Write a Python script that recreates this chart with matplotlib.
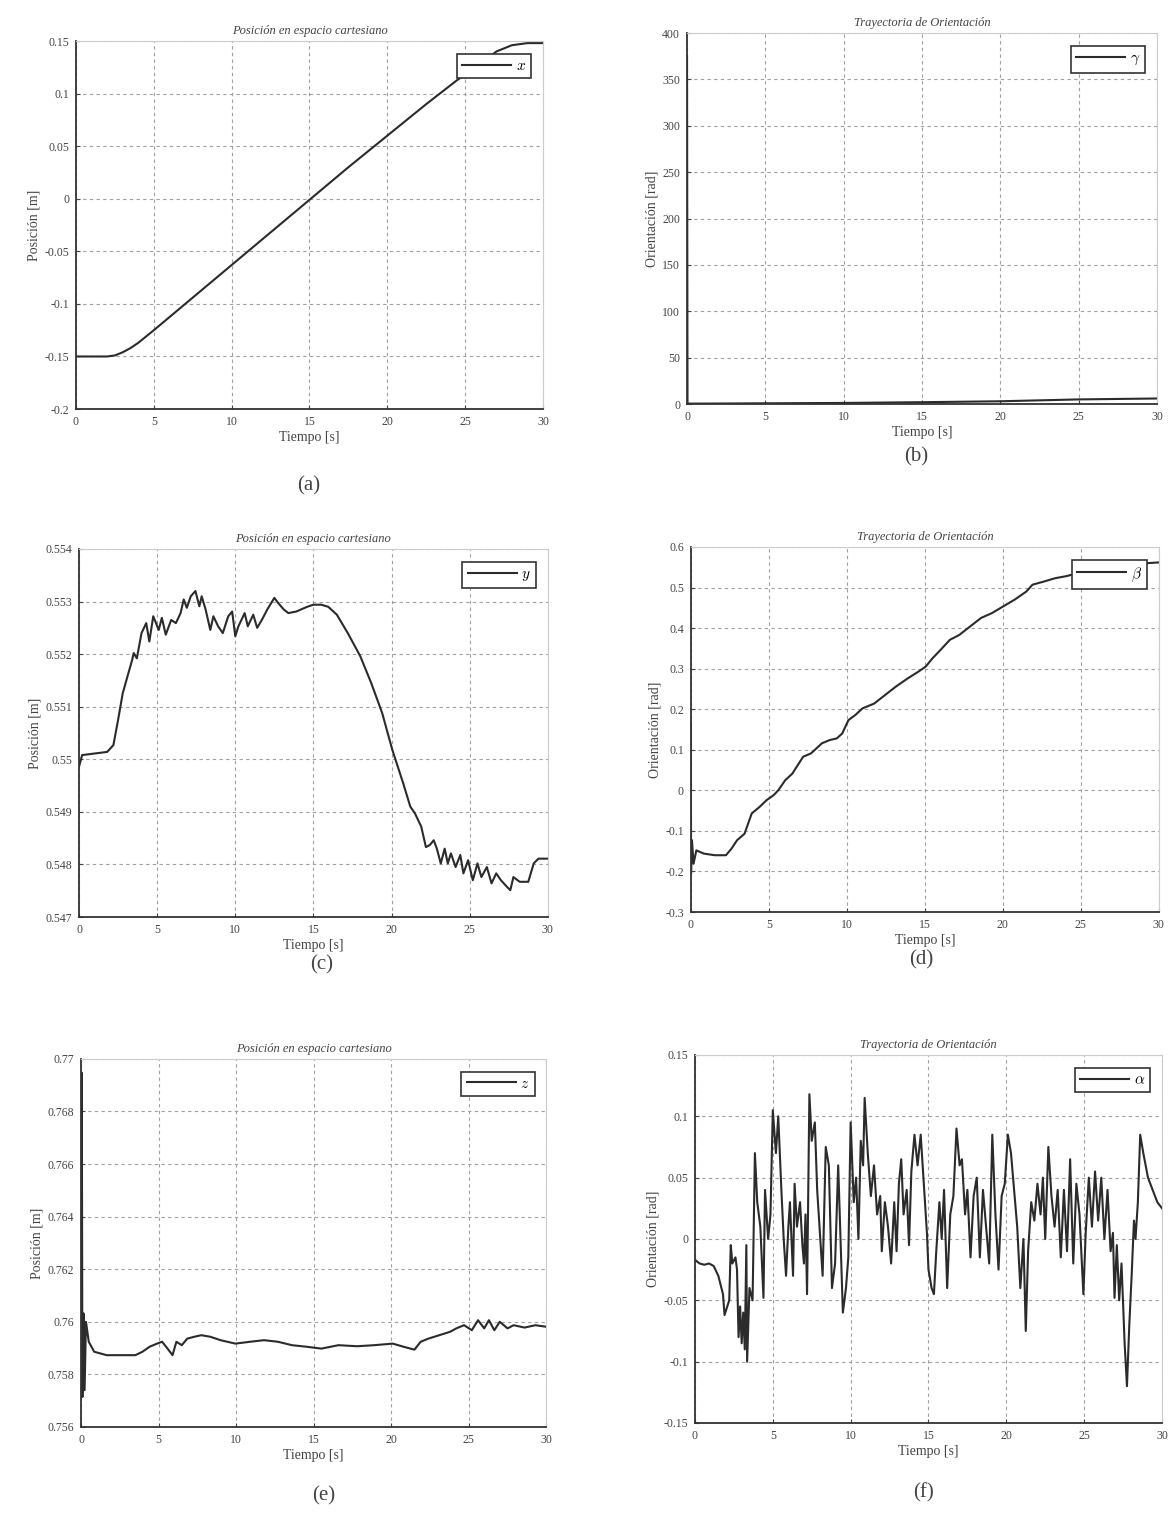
import matplotlib
matplotlib.use("Agg")
import matplotlib.pyplot as plt
from matplotlib.ticker import FormatStrFormatter, MultipleLocator

plt.rcParams['font.family'] = ['Liberation Serif', 'DejaVu Serif']
plt.rcParams['mathtext.fontset'] = 'cm'

# (a) x position
t_a = [0, 1, 2.0, 2.5, 3.0, 3.5, 4.0, 5, 7.5, 10, 12.5, 15, 17.5, 20, 22.5, 24.5, 26, 27, 28, 29, 30]
x_a = [-0.150, -0.150, -0.150, -0.149, -0.146, -0.142, -0.137, -0.125, -0.094, -0.063, -0.032,
       -0.001, 0.030, 0.060, 0.090, 0.113, 0.128, 0.140, 0.146, 0.148, 0.148]

# (b) gamma orientation
t_b = [0, 0.03, 1, 5, 10, 15, 20, 25, 30]
g_b = [375, 0.5, 0.5, 0.8, 1.2, 2.0, 3.0, 5.0, 6.0]

# (c) y position
t_c = [0, 0.2, 1.8, 2.2, 2.5, 2.8, 3.4, 3.5, 3.7, 4.0, 4.3, 4.5, 4.75, 5.1, 5.3, 5.55, 5.9, 6.2,
       6.5, 6.7, 6.9, 7.15, 7.45, 7.7, 7.85, 8.1, 8.4, 8.6, 8.9, 9.2, 9.55, 9.8, 10.0, 10.2, 10.6,
       10.8, 11.15, 11.4, 11.7, 12.05, 12.5, 12.75, 13.1, 13.4, 13.9, 14.6, 15.0, 15.5, 15.95, 16.5,
       17.2, 18.0, 18.7, 19.4, 20.05, 20.75, 21.2, 21.5, 21.9, 22.2, 22.45, 22.7, 22.9, 23.15, 23.4,
       23.6, 23.8, 24.1, 24.4, 24.6, 24.9, 25.2, 25.5, 25.75, 26.1, 26.4, 26.7, 27.0, 27.4, 27.6,
       27.8, 28.2, 28.75, 29.1, 29.4, 30]
y_c = [0.54986, 0.55008, 0.55014, 0.55027, 0.55075, 0.55126, 0.55189, 0.55202, 0.55192, 0.55240,
       0.55259, 0.55224, 0.55272, 0.55246, 0.55269, 0.55237, 0.55265, 0.55259, 0.55278, 0.55304,
       0.55288, 0.55310, 0.55320, 0.55291, 0.55310, 0.55285, 0.55246, 0.55272, 0.55253, 0.55240,
       0.55272, 0.55281, 0.55234, 0.55253, 0.55278, 0.55253, 0.55275, 0.55250, 0.55265, 0.55285,
       0.55307, 0.55297, 0.55285, 0.55278, 0.55281, 0.55290, 0.55294, 0.55294, 0.55290, 0.55275,
       0.55240, 0.55196, 0.55145, 0.55088, 0.55018, 0.54954, 0.54910, 0.54897, 0.54872, 0.54833,
       0.54837, 0.54846, 0.54830, 0.54802, 0.54830, 0.54802, 0.54821, 0.54795, 0.54818, 0.54783,
       0.54808, 0.54770, 0.54802, 0.54776, 0.54795, 0.54764, 0.54783, 0.54770, 0.54757, 0.54751,
       0.54776, 0.54767, 0.54767, 0.54802, 0.54811, 0.54811]

# (d) beta orientation
t_d = [0, 0.01, 0.07, 0.17, 0.35, 0.83, 1.54, 2.25, 2.6, 2.96, 3.44, 3.9, 4.4, 4.86, 5.3, 5.6,
       6.05, 6.5, 7.2, 7.7, 8.4, 8.9, 9.35, 9.7, 10.1, 10.55, 11.0, 11.75, 12.45, 13.15, 13.9, 14.6,
       15.05, 15.5, 16.0, 16.6, 17.2, 17.9, 18.6, 19.3, 20.0, 20.75, 21.5, 21.9, 22.65, 23.35, 24.05,
       25.0, 26.0, 27.0, 28.0, 29.2, 30]
b_d = [0.165, -0.206, -0.123, -0.181, -0.148, -0.156, -0.160, -0.160, -0.144, -0.123, -0.107,
       -0.057, -0.041, -0.024, -0.012, 0.000, 0.025, 0.041, 0.083, 0.091, 0.116, 0.124, 0.128,
       0.140, 0.173, 0.186, 0.202, 0.214, 0.235, 0.256, 0.276, 0.293, 0.305, 0.326, 0.346, 0.371,
       0.383, 0.404, 0.425, 0.437, 0.453, 0.470, 0.490, 0.507, 0.515, 0.523, 0.528, 0.537, 0.545,
       0.551, 0.556, 0.560, 0.562]

# (e) z position
t_e = [0, 0.05, 0.09, 0.16, 0.23, 0.32, 0.5, 0.85, 1.66, 3.5, 3.96, 4.42, 4.9, 5.23, 5.58, 5.9,
       6.15, 6.5, 6.85, 7.3, 7.76, 8.34, 9.0, 9.95, 10.9, 11.8, 12.7, 13.6, 14.56, 15.5, 16.6, 17.8,
       18.9, 20.1, 20.8, 21.5, 21.9, 22.4, 23.1, 23.8, 24.2, 24.7, 25.2, 25.6, 26.0, 26.3, 26.65,
       27.0, 27.5, 27.9, 28.6, 29.3, 30]
z_e = [0.7600, 0.76947, 0.75714, 0.76032, 0.75740, 0.76000, 0.75924, 0.75886, 0.75873, 0.75873,
       0.75886, 0.75905, 0.75917, 0.75924, 0.75898, 0.75873, 0.75924, 0.75911, 0.75936, 0.75943,
       0.75949, 0.75943, 0.75930, 0.75917, 0.75924, 0.75930, 0.75924, 0.75911, 0.75905, 0.75898,
       0.75911, 0.75907, 0.75911, 0.75917, 0.75905, 0.75894, 0.75924, 0.75936, 0.75949, 0.75962,
       0.75975, 0.75987, 0.75968, 0.76006, 0.75975, 0.76006, 0.75968, 0.76000, 0.75975, 0.75987,
       0.75978, 0.75987, 0.75981]

# (f) alpha orientation
t_f = [0, 0.3, 0.6, 0.9, 1.2, 1.5, 1.8, 1.9, 2.2, 2.3, 2.4, 2.6, 2.7, 2.8, 2.9, 3.0, 3.1, 3.2, 3.3,
       3.35, 3.5, 3.7, 3.85, 4.0, 4.2, 4.4, 4.5, 4.7, 4.85, 5.0, 5.2, 5.35, 5.55, 5.7, 5.85, 6.0,
       6.1, 6.3, 6.4, 6.55, 6.75, 6.9, 7.0, 7.1, 7.2, 7.35, 7.5, 7.7, 7.85, 8.0, 8.2, 8.4, 8.6,
       8.8, 9.0, 9.2, 9.35, 9.5, 9.7, 9.85, 10.0, 10.2, 10.35, 10.5, 10.65, 10.8, 10.9, 11.1, 11.3,
       11.5, 11.7, 11.9, 12.0, 12.2, 12.4, 12.6, 12.8, 12.95, 13.1, 13.25, 13.4, 13.6, 13.75, 13.9,
       14.1, 14.3, 14.5, 14.7, 14.9, 15.0, 15.2, 15.35, 15.5, 15.7, 15.85, 16.0, 16.2, 16.4, 16.6,
       16.8, 17.0, 17.15, 17.35, 17.5, 17.7, 17.9, 18.1, 18.3, 18.5, 18.7, 18.9, 19.1, 19.3, 19.5,
       19.7, 19.9, 20.1, 20.3, 20.5, 20.7, 20.9, 21.1, 21.25, 21.4, 21.6, 21.8, 22.0, 22.2, 22.35,
       22.5, 22.7, 22.9, 23.1, 23.3, 23.5, 23.7, 23.9, 24.1, 24.3, 24.5, 24.7, 24.95, 25.1, 25.3,
       25.5, 25.7, 25.9, 26.1, 26.3, 26.5, 26.7, 26.85, 26.95, 27.1, 27.25, 27.4, 27.6, 27.75,
       27.9, 28.05, 28.2, 28.3, 28.45, 28.6, 28.8, 29.1, 29.4, 29.7, 30]
a_f = [-0.017, -0.020, -0.021, -0.020, -0.022, -0.030, -0.045, -0.062, -0.050, -0.005, -0.020,
       -0.015, -0.025, -0.080, -0.055, -0.085, -0.060, -0.090, -0.005, -0.100, -0.040, -0.050,
       0.070, 0.030, 0.010, -0.048, 0.040, 0.000, 0.020, 0.105, 0.070, 0.100, 0.040, 0.000, -0.030,
       0.010, 0.030, -0.030, 0.045, 0.010, 0.030, -0.005, -0.020, 0.020, -0.045, 0.118, 0.080,
       0.095, 0.040, 0.010, -0.030, 0.075, 0.060, -0.040, -0.020, 0.060, 0.000, -0.060, -0.040,
       -0.015, 0.095, 0.030, 0.050, 0.000, 0.080, 0.060, 0.115, 0.070, 0.035, 0.060, 0.020, 0.035,
       -0.010, 0.030, 0.010, -0.020, 0.030, -0.010, 0.045, 0.065, 0.020, 0.040, -0.005, 0.055,
       0.085, 0.060, 0.085, 0.045, 0.005, -0.025, -0.040, -0.045, -0.010, 0.030, 0.000, 0.040,
       -0.040, 0.020, 0.035, 0.090, 0.060, 0.065, 0.020, 0.040, -0.015, 0.035, 0.050, -0.015,
       0.040, 0.010, -0.020, 0.085, 0.020, -0.025, 0.035, 0.045, 0.085, 0.070, 0.040, 0.010,
       -0.040, 0.000, -0.075, -0.010, 0.030, 0.015, 0.045, 0.020, 0.050, 0.000, 0.075, 0.035,
       0.010, 0.040, -0.015, 0.040, -0.010, 0.065, -0.020, 0.045, 0.020, -0.045, 0.005, 0.050,
       0.010, 0.055, 0.015, 0.050, 0.000, 0.040, -0.010, 0.005, -0.048, -0.005, -0.050, -0.020,
       -0.085, -0.120, -0.070, -0.030, 0.015, 0.000, 0.030, 0.085, 0.070, 0.050, 0.040, 0.030,
       0.025]

line_c = '#2b2b2b'
txt_c = '#444444'

fig = plt.figure(figsize=(11.69, 15.19), dpi=100)

panels = [
    # t, v, legend, title, ylabel, ylim, ystep, rect, letter pos
    (t_a, x_a, r'$x$', 'Posición en espacio cartesiano', 'Posición [m]', (-0.2, 0.15), 0.05,
     [0.065, 0.7307, 0.3995, 0.2423], (0.254, 0.677), 'a'),
    (t_b, g_b, r'$\gamma$', 'Trayectoria de Orientación', 'Orientación [rad]', (0, 400), 50,
     [0.5877, 0.734, 0.402, 0.2442], (0.773, 0.696), 'b'),
    (t_c, y_c, r'$y$', 'Posición en espacio cartesiano', 'Posición [m]', (0.547, 0.554), 0.001,
     [0.0676, 0.3963, 0.401, 0.2423], (0.265, 0.362), 'c'),
    (t_d, b_d, r'$\beta$', 'Trayectoria de Orientación', 'Orientación [rad]', (-0.3, 0.6), 0.1,
     [0.591, 0.3996, 0.4003, 0.2403], (0.778, 0.365), 'd'),
    (t_e, z_e, r'$z$', 'Posición en espacio cartesiano', 'Posición [m]', (0.756, 0.77), 0.002,
     [0.0693, 0.0606, 0.398, 0.2423], (0.267, 0.012), 'e'),
    (t_f, a_f, r'$\alpha$', 'Trayectoria de Orientación', 'Orientación [rad]', (-0.15, 0.15), 0.05,
     [0.5945, 0.0632, 0.3995, 0.2423], (0.781, 0.014), 'f'),
]

for t, v, leg, title, ylab, ylim, ystep, rect, lpos, letter in panels:
    ax = fig.add_axes(rect)
    ax.plot(t, v, color=line_c, linewidth=1.5, label=leg)
    ax.set_xlim(0, 30)
    ax.set_ylim(*ylim)
    ax.xaxis.set_major_locator(MultipleLocator(5))
    ax.yaxis.set_major_locator(MultipleLocator(ystep))
    ax.yaxis.set_major_formatter(FormatStrFormatter('%g'))
    ax.grid(True, linestyle=(0, (3, 3)), color='#a0a0a0', linewidth=0.8)
    ax.tick_params(direction='in', length=3, labelsize=8.5, colors=txt_c, pad=5)
    for s in ['left', 'bottom']:
        ax.spines[s].set_color('#333333')
        ax.spines[s].set_linewidth(1.3)
    for s in ['top', 'right']:
        ax.spines[s].set_color('#cccccc')
        ax.spines[s].set_linewidth(0.8)
    ax.set_title(title, fontsize=9, style='italic', color=txt_c, pad=5)
    ax.set_xlabel('Tiempo [s]', fontsize=10, color=txt_c, labelpad=2)
    ax.set_ylabel(ylab, fontsize=10, color=txt_c, labelpad=3)
    lg = ax.legend(loc='upper right', bbox_to_anchor=(0.975, 0.965), handlelength=3.2,
                   fontsize=11, frameon=True, fancybox=False, borderaxespad=0,
                   handletextpad=0.3, borderpad=0.35)
    lg.get_frame().set_edgecolor('#333333')
    lg.get_frame().set_linewidth(1.2)
    lg.get_frame().set_alpha(1)
    fig.text(lpos[0], lpos[1], '(' + letter + ')', fontsize=15, color=txt_c)

fig.savefig('out.png', dpi=100, facecolor='white')
